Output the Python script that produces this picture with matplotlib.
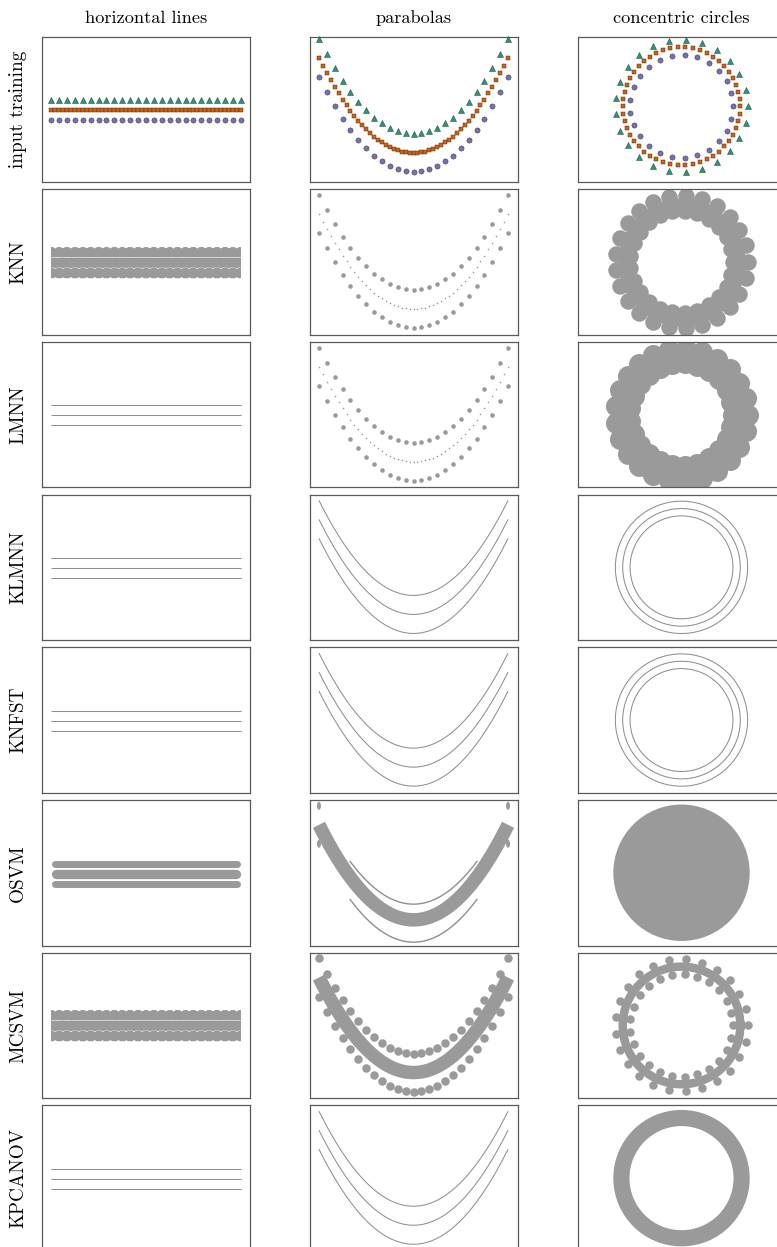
import numpy as np
import matplotlib
matplotlib.use('Agg')
import matplotlib.pyplot as plt
from matplotlib.patches import Circle, Wedge, Ellipse

# ---------------- data ----------------
column_titles = ['horizontal lines', 'parabolas', 'concentric circles']
row_labels = ['input training', 'KNN', 'LMNN', 'KLMNN', 'KNFST', 'OSVM', 'MCSVM', 'KPCANOV']

class_colors = ['#7570b3', '#d95f02', '#1b9e77']   # circles, squares, triangles
class_markers = ['o', 's', '^']
line_counts = [25, 49, 25]          # points per class (lines / parabolas)
ring_counts = [25, 50, 25]          # points per class (concentric circles)
line_levels = [-1.0, 0.0, 1.0]      # horizontal lines: y level of each class
parabola_offsets = [0.0, 0.2, 0.4]  # parabolas: y = x^2 + offset
circle_radii = [0.875, 1.0, 1.125]  # concentric circles: radius of each class
x_span = [-1.0, 1.0]

# classifier-region parameters (pixel sizes)
knn_dot_px = {'par': [4.6, 1.6, 4.6], 'cir': [16.5, 10.0, 16.5]}
lmnn_dot_px = {'par': [4.6, 1.6, 4.6], 'cir': [21.0, 21.0, 21.0]}
band_radius_px = 5.5
osvm_bar_px = [7.0, 9.3, 7.0]
osvm_par_band_px = 13.5
osvm_thin_offsets = [-0.035, 0.365]
osvm_thin_xmax = 0.67
osvm_disk_radius = 1.16
mcsvm_dot_px = 8.5
mcsvm_ring_px = 8.5
kpca_annulus = [0.885, 1.16]

# ---------------- layout ----------------
W, H, DPI = 777, 1247, 100
fig = plt.figure(figsize=(W / DPI, H / DPI), dpi=DPI)
GRAY = '#9a9a9a'
THIN = '#8f8f8f'
col_left_px = [42, 309.5, 577.5]
panel_w_px, panel_h_px = 208, 145.5
row_top_px = [36.5 + 152.7 * i for i in range(8)]

xlims = [(-1.095, 1.095), (-1.1, 1.1), (-1.769, 1.769)]
ylims_row1 = [(-7.2, 7.35), (-0.105, 1.426), (-1.289, 1.185)]
ylims_rest = [(-7.2, 7.35), (-0.07, 1.461), (-1.237, 1.237)]


def pt(px):
    return px * 72.0 / DPI


def add_ax(r, c):
    left = col_left_px[c] / W
    bottom = 1 - (row_top_px[r] + panel_h_px) / H
    ax = fig.add_axes([left, bottom, panel_w_px / W, panel_h_px / H])
    ax.set_xticks([])
    ax.set_yticks([])
    for s in ax.spines.values():
        s.set_color('#5a5a5a')
        s.set_linewidth(0.9)
    ax.set_xlim(*xlims[c])
    ax.set_ylim(*(ylims_row1[c] if r == 0 else ylims_rest[c]))
    return ax


def scales(ax, c, r):
    xl = xlims[c]
    yl = ylims_row1[c] if r == 0 else ylims_rest[c]
    return panel_w_px / (xl[1] - xl[0]), panel_h_px / (yl[1] - yl[0])


def points(c):
    out = []
    if c == 0:
        for lvl, n in zip(line_levels, line_counts):
            x = np.linspace(x_span[0], x_span[1], n)
            out.append((x, np.full(n, lvl)))
    elif c == 1:
        for off, n in zip(parabola_offsets, line_counts):
            x = np.linspace(x_span[0], x_span[1], n)
            out.append((x, x ** 2 + off))
    else:
        for rad, n in zip(circle_radii, ring_counts):
            t = np.linspace(0, 2 * np.pi, n, endpoint=False)
            out.append((rad * np.cos(t), rad * np.sin(t)))
    return out


def curve(c, k, off_override=None, xmax=None):
    if c == 0:
        x = np.linspace(x_span[0], x_span[1], 400)
        return x, np.full_like(x, line_levels[k])
    if c == 1:
        lo, hi = x_span
        if xmax is not None:
            lo, hi = -xmax, xmax
        x = np.linspace(lo, hi, 400)
        off = parabola_offsets[k] if off_override is None else off_override
        return x, x ** 2 + off
    t = np.linspace(0, 2 * np.pi, 721)
    return circle_radii[k] * np.cos(t), circle_radii[k] * np.sin(t)


def thin_curves(ax, c):
    for k in range(3):
        x, y = curve(c, k)
        ax.plot(x, y, color=THIN, lw=0.75, solid_capstyle='butt')


def nn_band(ax, c, r, radius_px, gap_px=1.1):
    sx, sy = scales(ax, c, r)
    yl = ylims_rest[c]
    nx, ny = 400, 300
    gx = np.linspace(x_span[0], x_span[1], nx)
    gy = np.linspace(yl[0], yl[1], ny)
    GX, GY = np.meshgrid(gx, gy)
    D = []
    for (px, py) in points(c):
        d = np.sqrt(((GX[..., None] - px) * sx) ** 2 + ((GY[..., None] - py) * sy) ** 2)
        D.append(d.min(axis=-1))
    D = np.sort(np.stack(D), axis=0)
    mask = (D[0] < radius_px) & ((D[1] - D[0]) > gap_px)
    img = np.zeros((ny, nx, 4))
    img[mask] = matplotlib.colors.to_rgba(GRAY)
    ax.imshow(img, extent=[x_span[0], x_span[1], yl[0], yl[1]], origin='lower',
              aspect='auto', interpolation='antialiased')
    ax.set_xlim(*xlims[c])
    ax.set_ylim(*yl)


def dots(ax, c, sizes_px):
    for (x, y), d in zip(points(c), sizes_px):
        if d > 0:
            ax.scatter(x, y, s=pt(d) ** 2, color=GRAY, linewidths=0, marker='o')


# ---------------- draw ----------------
for r in range(8):
    for c in range(3):
        ax = add_ax(r, c)
        sx, sy = scales(ax, c, r)
        if r == 0:
            msz = [5.2, 4.2, 6.0]
            for k, (x, y) in enumerate(points(c)):
                ax.scatter(x, y, s=pt(msz[k]) ** 2, marker=class_markers[k],
                           color=class_colors[k], edgecolors='#3a3a3a',
                           linewidths=0.35, clip_on=False, zorder=3)
        elif r == 1:  # KNN
            if c == 0:
                nn_band(ax, c, r, band_radius_px)
            else:
                dots(ax, c, knn_dot_px['par' if c == 1 else 'cir'])
        elif r == 2:  # LMNN
            if c == 0:
                thin_curves(ax, c)
            else:
                dots(ax, c, lmnn_dot_px['par' if c == 1 else 'cir'])
        elif r in (3, 4, 7):  # KLMNN, KNFST, KPCANOV
            if r == 7 and c == 2:
                ax.add_patch(Wedge((0, 0), kpca_annulus[1], 0, 360,
                                   width=kpca_annulus[1] - kpca_annulus[0],
                                   color=GRAY, lw=0))
            else:
                thin_curves(ax, c)
        elif r == 5:  # OSVM
            if c == 0:
                for k in range(3):
                    x, y = curve(c, k)
                    inset = (osvm_bar_px[k] / 2) / sx
                    keep = (x >= x_span[0] + inset) & (x <= x_span[1] - inset)
                    ax.plot(x[keep], y[keep], color=GRAY, lw=pt(osvm_bar_px[k]),
                            solid_capstyle='round')
            elif c == 1:
                x, y = curve(c, 1)
                ax.plot(x, y, color=GRAY, lw=pt(osvm_par_band_px), solid_capstyle='butt')
                for off in osvm_thin_offsets:
                    x, y = curve(c, 0, off_override=off, xmax=osvm_thin_xmax)
                    ax.plot(x, y, color=THIN, lw=1.0)
                for k in (0, 2):
                    px, py = points(c)[k]
                    for i in (0, -1):
                        ax.add_patch(Ellipse((px[i], py[i]), 4 / sx, 8 / sy,
                                             color=GRAY, lw=0))
            else:
                ax.add_patch(Circle((0, 0), osvm_disk_radius, color=GRAY, lw=0))
        elif r == 6:  # MCSVM
            if c == 0:
                nn_band(ax, c, r, band_radius_px)
            elif c == 1:
                x, y = curve(c, 1)
                ax.plot(x, y, color=GRAY, lw=pt(osvm_par_band_px), solid_capstyle='butt')
                dots(ax, c, [mcsvm_dot_px, 0, mcsvm_dot_px])
            else:
                x, y = curve(c, 1)
                ax.plot(x, y, color=GRAY, lw=pt(mcsvm_ring_px))
                dots(ax, c, [mcsvm_dot_px, 0, mcsvm_dot_px])

# titles and row labels
for c, t in enumerate(column_titles):
    fig.text((col_left_px[c] + panel_w_px / 2) / W, 1 - 18 / H, t,
             ha='center', va='center', family='cmr10', fontsize=13.2)
for r, t in enumerate(row_labels):
    fig.text(18 / W, 1 - (row_top_px[r] + panel_h_px / 2) / H, t, rotation=90,
             ha='center', va='center', family='cmr10', fontsize=13.8)

fig.savefig('out.png', dpi=DPI)
